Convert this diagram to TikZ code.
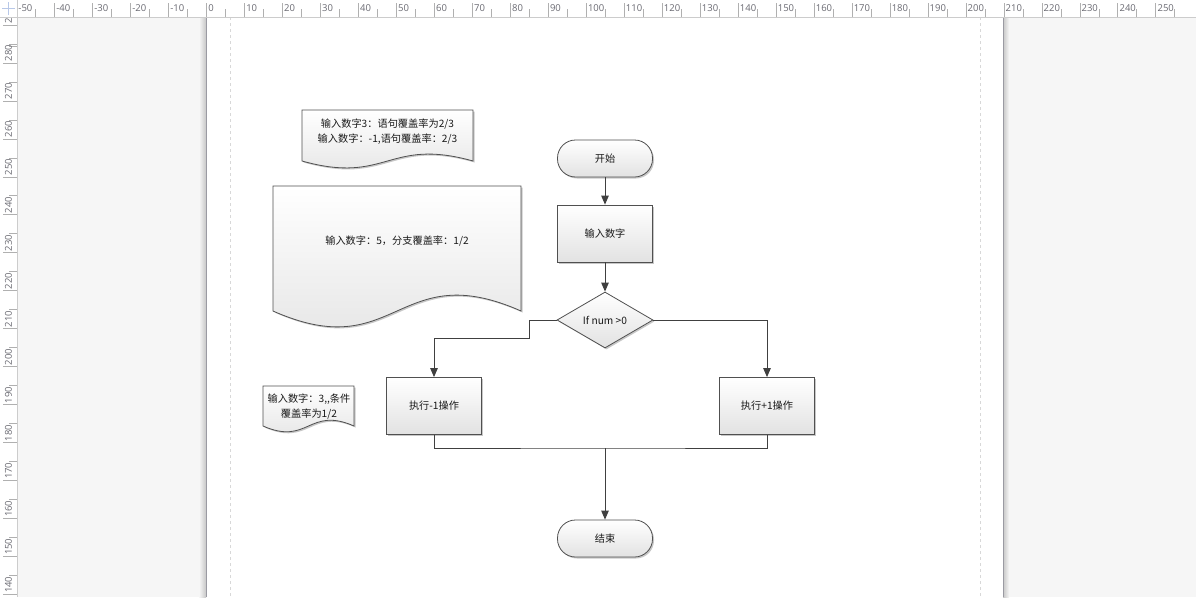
\documentclass[tikz,border=0pt]{standalone}
\usepackage{fontspec}
\newfontfamily\cjk{Noto Sans CJK SC}
\newfontfamily\rulerfont{Open Sans}
\usetikzlibrary{arrows.meta,shapes.geometric,shadows}
\definecolor{canvasbg}{HTML}{F6F6F6}
\definecolor{edgec}{HTML}{505050}
\definecolor{linec}{HTML}{404040}
\definecolor{fillbot}{HTML}{E2E2E2}
\definecolor{tickc}{HTML}{B0B0B0}
\definecolor{rulertext}{HTML}{6A6A72}
\definecolor{pageedge}{HTML}{9A9AA2}
\definecolor{marginc}{HTML}{D8D8D8}
\definecolor{crossc}{HTML}{B8C8E8}
\begin{document}
\begin{tikzpicture}[x=1pt,y=-1pt,
  shapebase/.style={draw=edgec, line width=0.8pt, top color=white, bottom color=fillbot,
    drop shadow={shadow xshift=1.5pt, shadow yshift=-1.5pt, opacity=0.22, fill=black}},
  txt/.style={font=\cjk\fontsize{10.2}{15}\selectfont, text=black!90},
  proc/.style={shapebase, txt, rectangle, minimum width=95pt, minimum height=57pt, inner sep=0pt},
  term/.style={proc, rounded corners=18pt, minimum height=37pt},
  decision/.style={shapebase, txt, diamond, aspect=1.7, minimum width=96pt, minimum height=56pt, inner sep=0pt},
  conn/.style={draw=linec, line width=1pt, -{Triangle[length=9pt,width=7.5pt]}},
  wire/.style={draw=linec, line width=1pt},
  doctext/.style={txt, align=center, inner sep=0pt},
  rlabel/.style={inner sep=0pt, font=\rulerfont\fontsize{9.5}{10}\selectfont, text=rulertext},
  tick/.style={draw=tickc, line width=0.8pt}
]
\useasboundingbox (0,0) rectangle (1196,597);
% canvas and page
\fill[canvasbg] (0,0) rectangle (1196,597);
\shade[left color=canvasbg, right color=black!22] (199,17) rectangle (206,597);
\shade[left color=black!22, right color=canvasbg] (1003,17) rectangle (1009,597);
\fill[white] (206,17) rectangle (1003,597);
\draw[pageedge, line width=1.3pt] (206.5,17) -- (206.5,597);
\draw[pageedge, line width=0.8pt] (1003,17) -- (1003,597);
\draw[marginc, dashed, line width=0.8pt] (230.5,17) -- (230.5,597);
\draw[marginc, dashed, line width=0.8pt] (980.5,17) -- (980.5,597);

% top ruler
\fill[white] (0,0) rectangle (1196,17);
\foreach \v in {-50,-40,...,250} {
  \pgfmathsetmacro\xx{206.6+\v*3.797}
  \draw[tick] (\xx,3) -- (\xx,17);
  \draw[tick] (\xx+18.985,9) -- (\xx+18.985,17);
  \node[rlabel, anchor=west] (rt\v) at (\xx+1.5,8.5) {\v};
}
% left ruler
\begin{scope}
  \clip (0,17) rectangle (17,597);
  \fill[white] (0,17) rectangle (17,597);
  \draw[tick] (9,46) -- (17,46);
  \foreach \v in {140,150,...,290} {
    \pgfmathsetmacro\yy{63+(280-\v)*3.797}
    \draw[tick] (3,\yy) -- (17,\yy);
    \draw[tick] (9,\yy+18.985) -- (17,\yy+18.985);
    \node[rlabel, anchor=west, rotate=90] (rl\v) at (8.5,\yy-1.5) {\v};
  }
\end{scope}
\fill[white] (0,0) rectangle (17,17);
\draw[crossc, line width=0.8pt] (2,8.5) -- (15,8.5);
\draw[crossc, line width=0.8pt] (8.5,2) -- (8.5,15);
\draw[black!20, line width=0.8pt] (0,17.5) -- (1196,17.5);
\draw[black!20, line width=0.8pt] (17.5,0) -- (17.5,597);

% documents
\path[shapebase] (302,110) -- (473,110) -- (473,161)
  .. controls (387.5,137) and (387.5,185) .. (302,161) -- cycle;
\node[doctext] (doc1) at (387.5,131.5) {输入数字3：语句覆盖率为2/3\\输入数字：-1,语句覆盖率：2/3};

\path[shapebase] (273,186) -- (521,186) -- (521,311)
  .. controls (397,256) and (397,366) .. (273,311) -- cycle;
\node[doctext] (doc2) at (397,241) {输入数字：5，分支覆盖率：1/2};

\path[shapebase] (263,386) -- (354,386) -- (354,426)
  .. controls (308.5,406) and (308.5,446) .. (263,426) -- cycle;
\node[doctext] (doc3) at (309,406.5) {输入数字：3,,条件\\覆盖率为1/2};

% flowchart
\node[term] (start) at (605,158.5) {开始};
\node[proc] (input) at (605,233.5) {输入数字};
\node[decision] (dec) at (605,320) {If num >0};
\node[proc] (minus) at (434,406) {执行-1操作};
\node[proc] (plus) at (767,406) {执行+1操作};
\node[term] (stop) at (605,538.5) {结束};
\coordinate (join) at (605,448);

\draw[conn] (start) -- (input);
\draw[conn] (input) -- (dec);
\draw[conn] (dec.west) -- ++(-27,0) -- ++(0,18) -| (minus.north);
\draw[conn] (dec.east) -| (plus.north);
\draw[wire] (minus.south) |- (join) -| (plus.south);
\draw[conn] (join) -- (stop);
\end{tikzpicture}
\end{document}
